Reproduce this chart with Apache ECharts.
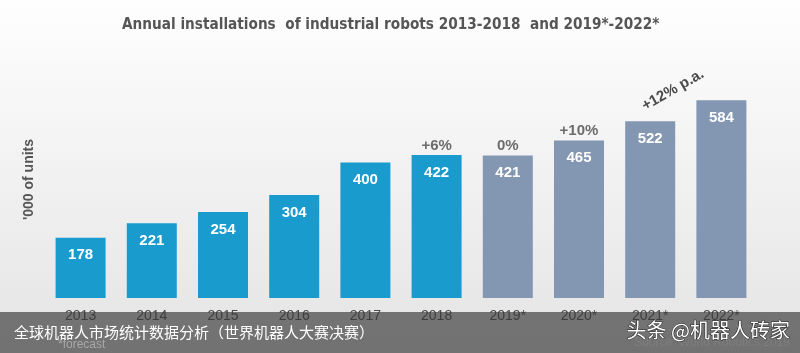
<!DOCTYPE html>
<html lang="en">
<head>
    <meta charset="UTF-8">
    <title>Annual installations of industrial robots</title>
    <script src="https://cdn.jsdelivr.net/npm/echarts@6/dist/echarts.min.js" type="text/javascript"></script>
    <style>
        html, body { margin: 0; padding: 0; }
    </style>
</head>
<body>
<div id="main" style="width: 800px;height:353px;"></div>
<script type="text/javascript">
    // 年份与安装量（千台）
    var years = ['2013', '2014', '2015', '2016', '2017', '2018', '2019*', '2020*', '2021*', '2022*'];
    var units = [178, 221, 254, 304, 400, 422, 421, 465, 522, 584];
    var isForecast = [false, false, false, false, false, false, true, true, true, true];
    var growth = ['', '', '', '', '', '+6%', '0%', '+10%', '', ''];

    var blue = '#1a9bce';
    var grey = '#8396b2';

    var myChart = echarts.init(document.getElementById('main'));

    var barData = [];
    for (var i = 0; i < units.length; i++) {
        barData.push({value: units[i], itemStyle: {color: isForecast[i] ? grey : blue}});
    }

    myChart.setOption({
        backgroundColor: {
            type: 'linear', x: 0, y: 0, x2: 0, y2: 1,
            colorStops: [{offset: 0, color: '#fefefe'}, {offset: 1, color: '#e4e4e4'}]
        },
        title: {
            text: 'Annual installations  of industrial robots 2013-2018  and 2019*-2022*',
            left: 117,
            top: 13,
            textStyle: {
                fontFamily: 'DejaVu Sans Condensed, Liberation Sans Narrow, Liberation Sans',
                fontWeight: 'bold',
                fontSize: 15.2,
                color: '#555'
            }
        },
        grid: {left: 45, right: 43, top: 61, bottom: 55},
        xAxis: {
            type: 'category',
            data: years,
            axisLine: {show: false},
            axisTick: {show: false},
            axisLabel: {
                color: '#4a4a4a',
                fontSize: 14,
                fontFamily: 'Liberation Sans',
                margin: 11
            }
        },
        yAxis: {
            type: 'value',
            min: 0,
            max: 700,
            name: "'000 of units",
            nameLocation: 'middle',
            nameGap: 9,
            nameTextStyle: {
                color: '#555',
                fontSize: 14,
                fontWeight: 'bold',
                fontFamily: 'Liberation Sans'
            },
            axisLine: {show: false},
            axisTick: {show: false},
            axisLabel: {show: false},
            splitLine: {show: false}
        },
        series: [
            {
                type: 'bar',
                barWidth: 50,
                data: barData,
                label: {
                    show: true,
                    position: 'insideTop',
                    distance: 10,
                    color: '#fff',
                    fontWeight: 'bold',
                    fontSize: 15,
                    fontFamily: 'Liberation Sans'
                },
                z: 2
            },
            {
                // 增长率标注
                type: 'scatter',
                data: units,
                symbolSize: 0,
                silent: true,
                label: {
                    show: true,
                    position: 'top',
                    distance: 2,
                    color: '#4a4a4a',
                    fontSize: 15,
                    fontWeight: 'bold',
                    fontFamily: 'Liberation Sans',
                    formatter: function (p) { return growth[p.dataIndex]; }
                }
            }
        ],
        graphic: [
            {
                type: 'text',
                x: 673, y: 90,
                rotation: Math.PI / 6,
                style: {
                    text: '+12% p.a.',
                    fill: '#4a4a4a',
                    fontSize: 15,
                    fontWeight: 'bold',
                    fontFamily: 'Liberation Sans',
                    textAlign: 'center',
                    textVerticalAlign: 'middle'
                }
            },
            {
                type: 'rect',
                z: 100,
                shape: {x: 0, y: 312, width: 800, height: 41},
                style: {fill: 'rgba(55,55,55,0.66)'}
            },
            {
                type: 'text',
                z: 101,
                x: 58, y: 345,
                style: {
                    text: '*forecast',
                    fill: '#a8a8a8',
                    fontSize: 12,
                    fontFamily: 'Liberation Sans',
                    textVerticalAlign: 'middle'
                }
            },
            {
                type: 'text',
                z: 101,
                x: 790, y: 343,
                style: {
                    text: 'Source: World Robotics 2019',
                    fill: '#7e7e7e',
                    fontSize: 12,
                    fontFamily: 'Liberation Sans',
                    textAlign: 'right',
                    textVerticalAlign: 'middle'
                }
            },
            {
                type: 'text',
                z: 102,
                x: 14, y: 332,
                style: {
                    text: '全球机器人市场统计数据分析（世界机器人大赛决赛）',
                    fill: '#fff',
                    fontSize: 15,
                    fontFamily: 'Noto Sans CJK SC',
                    textVerticalAlign: 'middle'
                }
            },
            {
                type: 'text',
                z: 102,
                x: 790, y: 330,
                style: {
                    text: '头条 @机器人砖家',
                    fill: '#fff',
                    stroke: '#222',
                    lineWidth: 1,
                    fontSize: 20,
                    fontFamily: 'Noto Sans CJK SC',
                    textAlign: 'right',
                    textVerticalAlign: 'middle'
                }
            }
        ]
    });
</script>
</body>
</html>
